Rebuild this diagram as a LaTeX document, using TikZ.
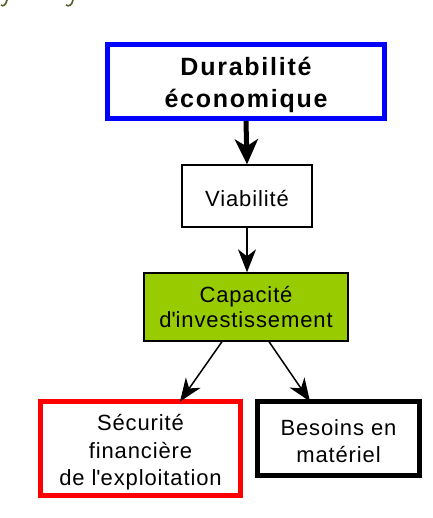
\documentclass[tikz,border=0pt]{standalone}
\usepackage{fontspec}
\setmainfont{Liberation Sans}
\newfontfamily\spacedfont[LetterSpace=4]{Liberation Sans}
\newfontfamily\spacedbold[LetterSpace=7]{Liberation Sans Bold}
\usetikzlibrary{arrows.meta}
\definecolor{boxblue}{RGB}{0,0,255}
\definecolor{boxred}{RGB}{255,0,0}
\definecolor{boxgreen}{RGB}{153,204,0}
\definecolor{olive}{RGB}{80,95,40}
\begin{document}
\begin{tikzpicture}[x=1pt,y=-1pt,
  box/.style={draw, inner sep=0pt},
  thickbox/.style={box, line width=5pt},
  thinbox/.style={box, line width=1.3pt},
  txt/.style={align=center, inner sep=0pt, text=black, font=\spacedfont\fontsize{22}{27.5}\selectfont},
  bigarrow/.style={line width=5pt, -{Stealth[length=25pt,width=23pt,inset=7pt]}},
  smallarrow/.style={line width=1.5pt, -{Stealth[length=23pt,width=18pt,inset=7pt]}}
]
\useasboundingbox (0,0) rectangle (432,518);
% cut-off text fragments at top
\draw[olive, line width=1.6pt] (7,0) .. controls (6,5) and (3,7) .. (1,5);
\draw[olive, line width=1.6pt] (73,0) .. controls (72,5) and (69,7) .. (66,5);

% boxes
\node[thickbox, draw=boxblue, minimum width=277pt, minimum height=74pt] (dur) at (246,81.5) {};
\node[thinbox, minimum width=130pt, minimum height=62pt] (via) at (247,196) {};
\node[thinbox, fill=boxgreen, minimum width=204pt, minimum height=68pt] (cap) at (246,307) {};
\node[thickbox, draw=boxred, minimum width=200pt, minimum height=94pt] (sec) at (140.5,448.5) {};
\node[thickbox, draw=black, minimum width=162pt, minimum height=74pt] (bes) at (338.5,438.5) {};

% texts
\node[txt, font=\spacedbold\fontsize{25}{32.5}\selectfont] (durT) at ([yshift=-3.5pt]dur.center) {Durabilité\\économique};
\node[txt] (viaT) at ([yshift=-3pt]via.center) {Viabilité};
\node[txt, font=\spacedfont\fontsize{22}{25}\selectfont] (capT) at (cap.center) {Capacité\\d\textquotesingle investissement};
\node[txt] (secT) at ([yshift=-4pt]sec.center) {Sécurité\\financière\\de l\textquotesingle exploitation};
\node[txt, font=\spacedfont\fontsize{22}{27}\selectfont] (besT) at ([yshift=-2.5pt]bes.center) {Besoins en\\matériel};

% connectors
\draw[bigarrow] (dur.south) -- (via.north);
\draw[smallarrow] (via.south) -- (via.south |- cap.north);
\draw[smallarrow] ([xshift=-24pt]cap.south) -- ([xshift=39.5pt,yshift=-2.5pt]sec.north);
\draw[smallarrow] ([xshift=23pt]cap.south) -- ([xshift=-28.5pt,yshift=-2.5pt]bes.north);
\end{tikzpicture}
\end{document}
